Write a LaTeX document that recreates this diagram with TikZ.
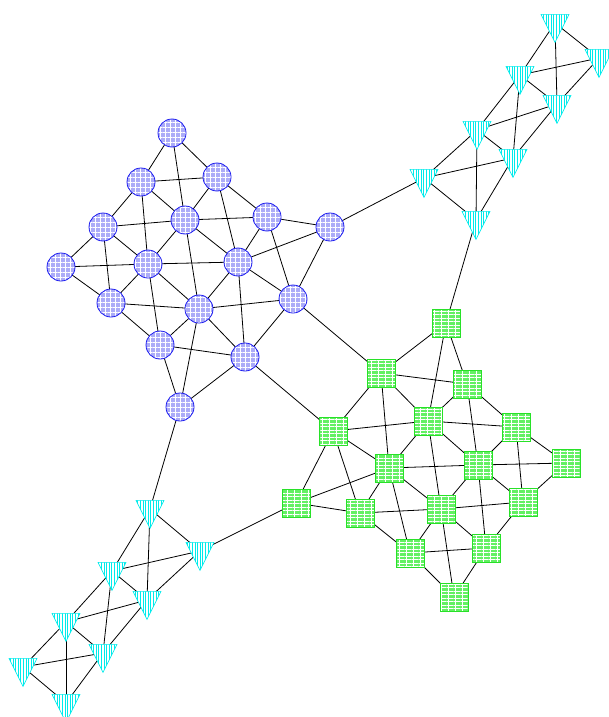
\documentclass[tikz,border=0pt]{standalone}
\usetikzlibrary{shapes.geometric,patterns.meta,backgrounds}
\definecolor{bluefill}{RGB}{172,172,248}
\definecolor{blueline}{RGB}{30,30,240}
\definecolor{greenfill}{RGB}{100,240,100}
\definecolor{greenline}{RGB}{40,225,40}
\definecolor{cyanline}{RGB}{0,235,235}
\tikzset{
  bnode/.style={circle, draw=blueline, line width=0.8pt, minimum size=28pt, inner sep=0pt,
    preaction={fill=bluefill},
    preaction={pattern={Lines[angle=0,distance=5pt,line width=0.7pt]}, pattern color=white},
    pattern={Lines[angle=90,distance=5pt,line width=0.7pt]}, pattern color=white},
  gnode/.style={rectangle, draw=greenline, line width=0.8pt, minimum size=28pt, inner sep=0pt,
    preaction={fill=greenfill},
    preaction={pattern={Lines[angle=0,distance=3.5pt,line width=0.8pt]}, pattern color=white},
    pattern={Lines[angle=90,distance=7pt,line width=0.8pt]}, pattern color=white},
  tnode/.style={isosceles triangle, isosceles triangle stretches, shape border rotate=-90,
    minimum width=28pt, minimum height=28pt, inner sep=0pt, draw=cyanline, line width=0.6pt,
    preaction={fill=white},
    pattern={Lines[angle=90,distance=2.6pt,line width=0.8pt]}, pattern color=cyanline},
  edge/.style={draw=black, line width=0.8pt}
}
\begin{document}
\begin{tikzpicture}[x=1pt,y=-1pt]
\useasboundingbox (0,0) rectangle (609,717);
% blue
\node[bnode] (B1) at (172,133) {};
\node[bnode] (B2) at (141,182) {};
\node[bnode] (B3) at (217,177) {};
\node[bnode] (B4) at (103,227) {};
\node[bnode] (B5) at (185,220) {};
\node[bnode] (B6) at (267,217) {};
\node[bnode] (B7) at (330,227) {};
\node[bnode] (B8) at (61,267) {};
\node[bnode] (B9) at (148,264) {};
\node[bnode] (B10) at (238,262) {};
\node[bnode] (B11) at (111,303) {};
\node[bnode] (B12) at (199,309) {};
\node[bnode] (B13) at (293,299) {};
\node[bnode] (B14) at (160,345) {};
\node[bnode] (B15) at (245,357) {};
\node[bnode] (B16) at (180,407) {};
% green
\node[gnode] (G1) at (446,323) {};
\node[gnode] (G2) at (381,373) {};
\node[gnode] (G3) at (467,384) {};
\node[gnode] (G4) at (333,431) {};
\node[gnode] (G5) at (428,421) {};
\node[gnode] (G6) at (516,427) {};
\node[gnode] (G7) at (389,468) {};
\node[gnode] (G8) at (478,465) {};
\node[gnode] (G9) at (566,463) {};
\node[gnode] (G10) at (296,503) {};
\node[gnode] (G11) at (360,513) {};
\node[gnode] (G12) at (441,509) {};
\node[gnode] (G13) at (523,502) {};
\node[gnode] (G14) at (410,553) {};
\node[gnode] (G15) at (486,548) {};
\node[gnode] (G16) at (454,597) {};
% cyan upper
\node[tnode] (T1) at (555,23) {};
\node[tnode] (T2) at (599,58) {};
\node[tnode] (T3) at (520,75) {};
\node[tnode] (T4) at (557,104) {};
\node[tnode] (T5) at (477,130) {};
\node[tnode] (T6) at (513,158) {};
\node[tnode] (T7) at (424,178) {};
\node[tnode] (T8) at (476,220) {};
% cyan lower
\node[tnode] (L1) at (150,509) {};
\node[tnode] (L2) at (200,551) {};
\node[tnode] (L3) at (112,571) {};
\node[tnode] (L4) at (147,600) {};
\node[tnode] (L5) at (66,622) {};
\node[tnode] (L6) at (103,653) {};
\node[tnode] (L7) at (23,667) {};
\node[tnode] (L8) at (66,703) {};
\begin{scope}[on background layer]
\foreach \a/\b in {B1/B2,B1/B3,B1/B5,B2/B3,B2/B4,B2/B5,B2/B9,B3/B5,B3/B6,B3/B10,
  B4/B5,B4/B8,B4/B9,B4/B11,B5/B6,B5/B9,B5/B10,B5/B12,B6/B7,B6/B10,B6/B13,
  B7/B10,B7/B13,B7/T7,B8/B9,B8/B11,B9/B10,B9/B11,B9/B12,B9/B14,B10/B12,B10/B13,B10/B15,
  B11/B12,B11/B14,B12/B13,B12/B14,B12/B15,B12/B16,B13/B15,B13/G2,B14/B15,B14/B16,
  B15/B16,B15/G4,B16/L1,
  G1/G2,G1/G3,G1/G5,G1/T8,G2/G3,G2/G4,G2/G5,G2/G7,G3/G5,G3/G6,G3/G8,
  G4/G5,G4/G7,G4/G10,G4/G11,G5/G6,G5/G7,G5/G8,G5/G12,G6/G8,G6/G9,G6/G13,
  G7/G8,G7/G10,G7/G11,G7/G12,G7/G14,G8/G9,G8/G12,G8/G13,G8/G15,G9/G13,
  G10/G11,G10/L2,G11/G12,G11/G14,G12/G13,G12/G14,G12/G15,G12/G16,G13/G15,
  G14/G15,G14/G16,G15/G16,
  T1/T2,T1/T3,T1/T4,T2/T3,T2/T4,T3/T4,T3/T5,T3/T6,T4/T5,T4/T6,T5/T6,T5/T7,T5/T8,
  T6/T7,T6/T8,T7/T8,
  L1/L2,L1/L3,L1/L4,L2/L3,L2/L4,L3/L4,L3/L5,L3/L6,L4/L5,L4/L6,L5/L6,L5/L7,L5/L8,
  L6/L7,L6/L8,L7/L8}
  \draw[edge] (\a.center) -- (\b.center);
\end{scope}
\end{tikzpicture}
\end{document}
